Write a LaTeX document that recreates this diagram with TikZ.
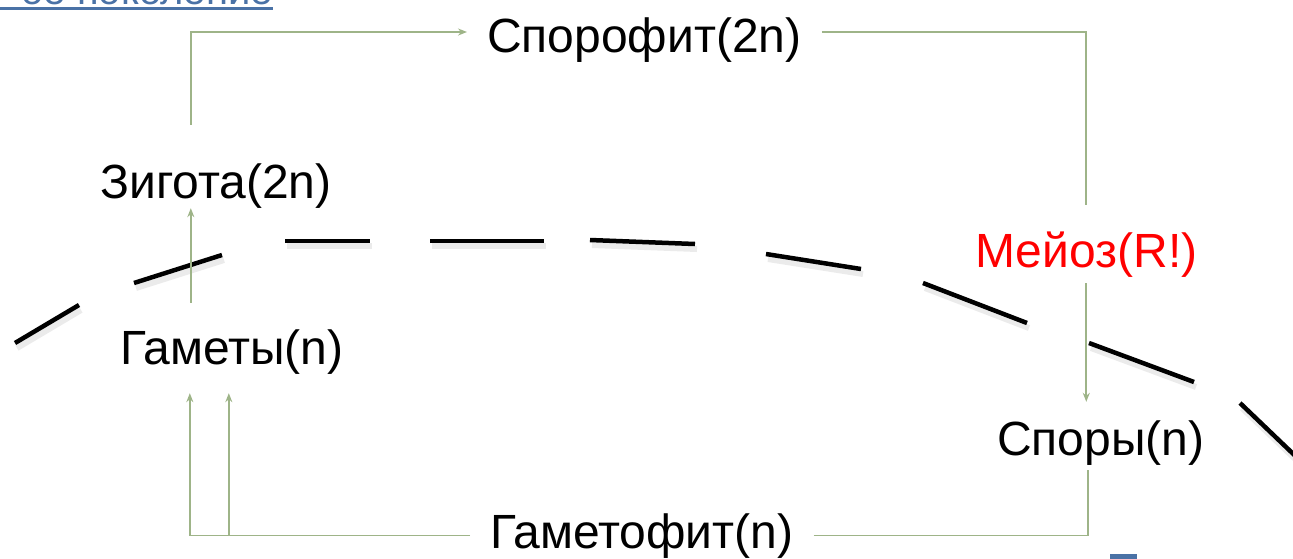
\documentclass[tikz,border=0pt]{standalone}
\usepackage{fontspec}
\setmainfont{Liberation Sans}
\usetikzlibrary{arrows.meta,calc}

\definecolor{cyclegreen}{RGB}{158,180,136}
\definecolor{titleblue}{RGB}{74,114,166}
\definecolor{meiosred}{RGB}{255,0,0}

\begin{document}
\begin{tikzpicture}[
  x=1pt, y=-1pt,
  stage/.style={anchor=base west, inner xsep=20pt, inner ysep=0pt,
    text height=35pt, text depth=10pt, font=\fontsize{48}{56}\selectfont},
  flow/.style={draw=cyclegreen, line width=1.7pt},
  flowA/.style={flow, -{Stealth[length=9pt, width=7pt, inset=3pt]}},
  border/.style={line width=4.5pt, black},
  shade/.style={line width=6pt, black, opacity=0.08}
]
\useasboundingbox (0,0) rectangle (1293,558);
\clip (0,0) rectangle (1293,558);

% Title (cut off at the top)
\node[anchor=base east, inner sep=0pt, text=titleblue,
      font=\fontsize{40}{48}\selectfont] (title) at (273,4) {ое поколение};
\draw[titleblue, line width=3pt] (0,8.5) -- ([yshift=-4.5pt]title.base east);

% Stages of the cycle
\node[stage] (spor) at (467,52) {Спорофит(2n)};
\node[stage] (zyg) at (80,198) {Зигота(2n)};
\node[stage, text=meiosred] (meio) at (955,267) {Мейоз(R!)};
\node[stage] (gam) at (100,364) {Гаметы(n)};
\node[stage] (spory) at (977,455) {Споры(n)};
\node[stage] (gamf) at (470,548) {Гаметофит(n)};

% Border between diploid and haploid phases
\foreach \xa/\ya/\xb/\yb in {15/343/79/305, 134/283/222/255, 285/241/370/241,
                   430/241/544/241, 590/240/695/244, 766/254/861/269,
                   923/283/1027/323, 1089/343/1194/382, 1240/403/1310/470}{
  \draw[shade] (\xa+2,\ya+5) -- (\xb+2,\yb+5);
  \draw[border] (\xa,\ya) -- (\xb,\yb);
}

% Connectors
\draw[flowA, shorten <=38pt] ([xshift=-25pt]zyg.north) |- ([yshift=7.5pt]spor.west);
\draw[flow, shorten >=27pt] ([yshift=7.5pt]spor.east) -| (meio.north);
\draw[flowA, shorten <=6pt, shorten >=18pt] (meio.south) -- (meio.south |- spory.north);
\draw[flow, shorten >=5pt] (gamf.east) -| ([xshift=-13pt]spory.south);
\draw[flowA, shorten >=19pt] (gamf.west) -| ([xshift=-42pt]gam.south);
\draw[flowA, shorten >=19pt] ([xshift=-3pt]gam.south |- gamf.west) -- ([xshift=-3pt]gam.south);
\draw[flowA, shorten <=26pt] ([xshift=-41pt]gam.north) -- ([xshift=-41pt]gam.north |- zyg.south);

% Fragment at the lower edge
\fill[titleblue] (1110,554) rectangle (1137,560);
\end{tikzpicture}
\end{document}
